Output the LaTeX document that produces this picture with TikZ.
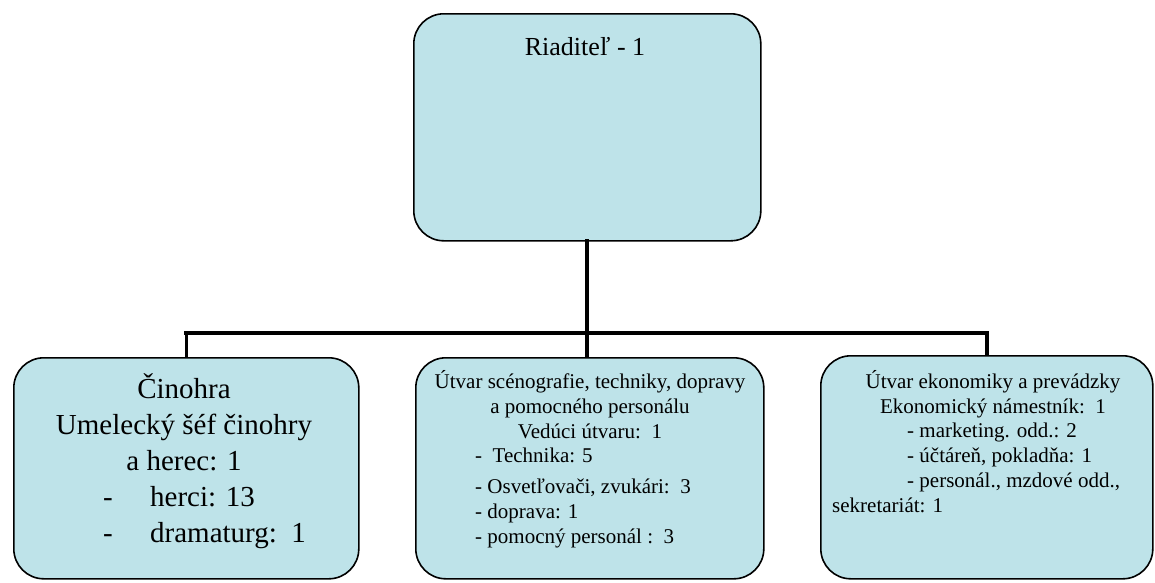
\documentclass[tikz,border=0pt]{standalone}
\usepackage{fontspec}
\setmainfont{Liberation Serif}
\definecolor{boxblue}{RGB}{190,227,233}
\tikzset{
  unitbox/.style={draw=black, line width=1.6pt, fill=boxblue, rounded corners=30pt, inner sep=0pt, anchor=north west},
  bigtext/.style={font=\fontsize{29}{36}\selectfont, inner sep=0pt},
  smalltext/.style={font=\fontsize{21}{25}\selectfont, inner sep=0pt},
  trunk/.style={line width=4.5pt, line cap=rect},
  branch/.style={line width=3.5pt}
}
\begin{document}
\begin{tikzpicture}[x=1pt, y=-1pt]
  \useasboundingbox[fill=white] (0,0) rectangle (1155,582);

  % boxes
  \node[unitbox, minimum width=347pt, minimum height=227pt] (riaditel) at (413,13) {};
  \node[unitbox, minimum width=345pt, minimum height=221pt] (cinohra) at (13,357) {};
  \node[unitbox, minimum width=348pt, minimum height=221pt] (scenografia) at (415,357) {};
  \node[unitbox, minimum width=332pt, minimum height=223pt] (ekonomika) at (820,355) {};

  % connectors
  \coordinate (rozvod) at (587,333);
  \coordinate (barL) at (cinohra.north |- rozvod);
  \coordinate (barR) at (ekonomika.north |- rozvod);
  \draw[trunk] (riaditel.south -| rozvod) -- (rozvod);
  \draw[trunk] (barL) -- (barR);
  \draw[branch] (barL) -- (cinohra.north);
  \draw[branch] (rozvod) -- (rozvod |- scenografia.north);
  \draw[branch] (barR) -- (ekonomika.north);

  % texts (base = last line)
  \node[anchor=base, font=\fontsize{26}{30}\selectfont, inner sep=0pt] (riaditelTxt) at (585,55) {Riaditeľ - 1};

  \node[bigtext, anchor=base, align=center] (cinTitle) at (184,470)
    {Činohra\\Umelecký šéf činohry\\a herec: 1};
  \node[bigtext, anchor=base west, align=left] (cinList) at (103,542)
    {\makebox[47pt][l]{-}herci: 13\\\makebox[47pt][l]{-}dramaturg:\ \ 1};

  \node[smalltext, anchor=base, align=center] (scenTitle) at (590,438)
    {Útvar scénografie, techniky, dopravy\\a pomocného personálu\\Vedúci útvaru:\ \ 1};
  \node[smalltext, anchor=base west, align=left] (scenList) at (475,543)
    {-\ \ Technika: 5\\[6pt]- Osvetľovači, zvukári:\ \ 3\\- doprava: 1\\- pomocný personál :\ \ 3};

  \node[smalltext, anchor=base, align=center] (ekoTitle) at (993,413)
    {Útvar ekonomiky a prevádzky\\Ekonomický námestník:\ \ 1};
  \node[smalltext, anchor=base west, align=left] (ekoList) at (832,512)
    {\hspace*{75pt}- marketing. odd.: 2\\\hspace*{75pt}- účtáreň, pokladňa: 1\\\hspace*{75pt}- personál., mzdové odd.,\\sekretariát: 1};
\end{tikzpicture}
\end{document}
